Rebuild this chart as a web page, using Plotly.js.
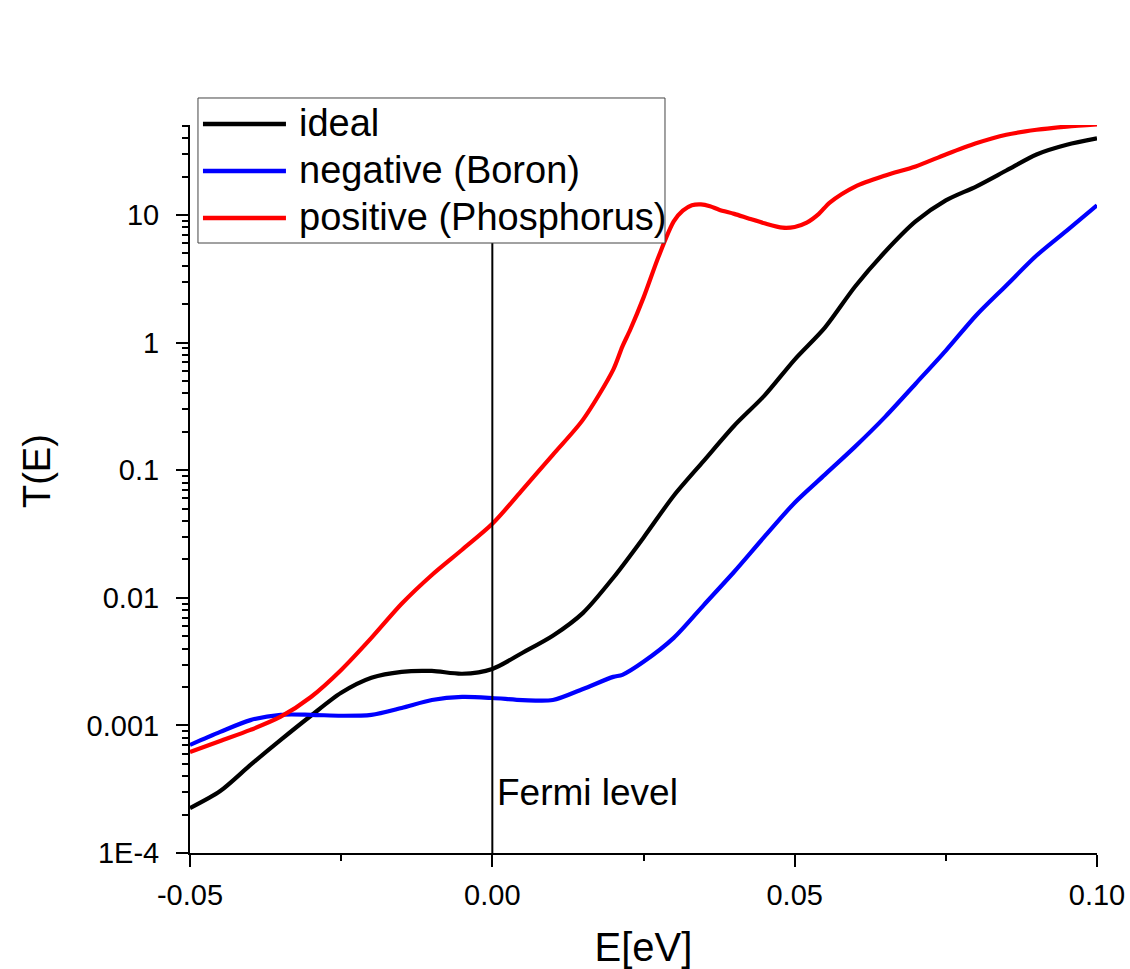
<!DOCTYPE html>
<html>
<head>
<meta charset="utf-8">
<script src="https://cdn.plot.ly/plotly-3.0.1.min.js"></script>
<style>
  html, body { margin: 0; padding: 0; background: #ffffff; }
  #chart { width: 1130px; height: 969px; }
</style>
</head>
<body>
<div id="chart"></div>
<script>
// ---- Data ----
const energyIdeal = [-0.05, -0.045, -0.04, -0.035, -0.03, -0.025, -0.02, -0.015, -0.01, -0.005,
  0.0, 0.005, 0.01, 0.015, 0.02, 0.025, 0.03, 0.035, 0.04, 0.045,
  0.05, 0.055, 0.06, 0.065, 0.07, 0.075, 0.08, 0.085, 0.09, 0.095, 0.10];
const tIdeal = [2.25e-4, 3.06e-4, 4.9e-4, 7.7e-4, 1.19e-3, 1.80e-3, 2.36e-3, 2.63e-3, 2.67e-3, 2.54e-3,
  2.77e-3, 3.71e-3, 5.04e-3, 7.62e-3, 0.01436, 0.0296, 0.0631, 0.119, 0.223, 0.384,
  0.736, 1.31, 2.75, 5.17, 8.89, 13.0, 16.7, 22.3, 29.8, 35.5, 39.8];

const energyBoron = [-0.05, -0.045, -0.04, -0.035, -0.03, -0.025, -0.02, -0.015, -0.01, -0.005,
  0.0, 0.005, 0.01, 0.015, 0.02, 0.0215, 0.025, 0.03, 0.035, 0.04, 0.045,
  0.05, 0.055, 0.06, 0.065, 0.07, 0.075, 0.08, 0.085, 0.09, 0.095, 0.10];
const tBoron = [7.03e-4, 8.89e-4, 1.10e-3, 1.21e-3, 1.21e-3, 1.19e-3, 1.21e-3, 1.37e-3, 1.58e-3, 1.67e-3,
  1.64e-3, 1.58e-3, 1.58e-3, 1.93e-3, 2.40e-3, 2.49e-3, 3.15e-3, 4.85e-3, 8.81e-3, 0.0160, 0.0301,
  0.0556, 0.0923, 0.153, 0.263, 0.476, 0.865, 1.63, 2.80, 4.81, 7.55, 11.9];

const energyPhos = [-0.05, -0.045, -0.04, -0.035, -0.03, -0.025, -0.02, -0.015, -0.01, -0.005,
  0.0, 0.005, 0.01, 0.015, 0.02, 0.0215, 0.0228, 0.025, 0.0275, 0.03, 0.0315, 0.033, 0.0345, 0.036, 0.0375,
  0.04, 0.0425, 0.045, 0.048, 0.05, 0.052, 0.054, 0.0558, 0.06, 0.065, 0.07, 0.075, 0.08, 0.085, 0.09, 0.095, 0.10];
const tPhos = [6.19e-4, 7.55e-4, 9.22e-4, 1.17e-3, 1.67e-3, 2.72e-3, 4.85e-3, 8.98e-3, 0.0151, 0.0238,
  0.0380, 0.0703, 0.132, 0.249, 0.614, 0.93, 1.26, 2.25, 4.73, 8.9, 10.8, 11.9, 12.1, 11.7, 11.0,
  10.2, 9.35, 8.6, 7.95, 8.05, 8.7, 10.2, 12.5, 16.7, 20.4, 24.0, 29.8, 36.4, 42.5, 46.5, 49.3, 51.3];

const seriesNames = ["ideal", "negative (Boron)", "positive (Phosphorus)"];
const seriesColors = ["#000000", "#0000ff", "#ff0000"];

const xTickVals = [-0.05, 0.0, 0.05, 0.10];
const xTickText = ["-0.05", "0.00", "0.05", "0.10"];
const yTickVals = [1e-4, 1e-3, 1e-2, 1e-1, 1, 10];
const yTickText = ["1E-4", "0.001", "0.01", "0.1", "1", "10"];

const xTitle = "E[eV]";
const yTitle = "T(E)";
const fermiEnergy = 0.0;
const fermiLabel = "Fermi level";
const fermiLabelY = 3.0e-4;

// ---- Chart ----
const FONT = "Liberation Sans, Arial, sans-serif";
const xs = [energyIdeal, energyBoron, energyPhos];
const ys = [tIdeal, tBoron, tPhos];

const traces = seriesNames.map((name, i) => ({
  type: "scatter",
  mode: "lines",
  name: name,
  x: xs[i],
  y: ys[i],
  line: { color: seriesColors[i], width: 4.2, shape: "spline", smoothing: 0.8 },
  hoverinfo: "skip",
  showlegend: false
}));

// Legend drawn in paper coordinates (box, long line samples, labels)
const legendBox = { x0: 0.0088, x1: 0.5237, y0: 0.8379, y1: 1.0371 };
const legendRowsY = [1.0014, 0.9368, 0.8723];
const legendLineX = [0.0143, 0.1058];
const legendTextX = 0.118;

const shapes = [{
  type: "line", xref: "x", yref: "paper",
  x0: fermiEnergy, x1: fermiEnergy, y0: 0, y1: 1,
  line: { color: "#000000", width: 2 }, layer: "above"
}, {
  type: "rect", xref: "paper", yref: "paper",
  x0: legendBox.x0, x1: legendBox.x1, y0: legendBox.y0, y1: legendBox.y1,
  fillcolor: "#ffffff", line: { color: "#444444", width: 1 }, layer: "above"
}];
seriesNames.forEach((name, i) => {
  shapes.push({
    type: "line", xref: "paper", yref: "paper",
    x0: legendLineX[0], x1: legendLineX[1], y0: legendRowsY[i], y1: legendRowsY[i],
    line: { color: seriesColors[i], width: 4.5 }, layer: "above"
  });
});

const annotations = [{
  xref: "x", yref: "y",
  x: fermiEnergy, y: Math.log10(fermiLabelY),
  text: fermiLabel, showarrow: false,
  xanchor: "left", yanchor: "middle", xshift: 3,
  font: { family: FONT, size: 37, color: "#000000" }
}, {
  xref: "paper", yref: "paper",
  x: -0.1687, y: 0.5247,
  text: yTitle, showarrow: false, textangle: -90,
  xanchor: "center", yanchor: "middle",
  font: { family: FONT, size: 38, color: "#000000" }
}];
seriesNames.forEach((name, i) => {
  annotations.push({
    xref: "paper", yref: "paper",
    x: legendTextX, y: legendRowsY[i],
    text: name, showarrow: false,
    xanchor: "left", yanchor: "middle", yshift: 1,
    font: { family: FONT, size: 38, color: "#000000" }
  });
});

const layout = {
  width: 1130,
  height: 969,
  paper_bgcolor: "#ffffff",
  plot_bgcolor: "#ffffff",
  margin: { l: 190, r: 33, t: 125, b: 116, pad: 0 },
  font: { family: FONT, color: "#000000", size: 29 },
  showlegend: false,
  xaxis: {
    type: "linear",
    range: [-0.05, 0.10],
    tickvals: xTickVals,
    ticktext: xTickText,
    ticks: "outside", ticklen: 12, tickwidth: 2, tickcolor: "#000000",
    minor: { ticks: "outside", ticklen: 6, tickwidth: 2, tickcolor: "#000000", dtick: 0.025, tick0: -0.05, showgrid: false },
    showline: true, linecolor: "#000000", linewidth: 2,
    showgrid: false, zeroline: false, mirror: false,
    tickfont: { family: FONT, size: 29, color: "#000000" },
    ticklabelstandoff: 3,
    title: { text: xTitle, font: { family: FONT, size: 40, color: "#000000" }, standoff: 32 },
    automargin: false
  },
  yaxis: {
    type: "log",
    range: [-4, 1.705],
    tickvals: yTickVals,
    ticktext: yTickText,
    ticks: "outside", ticklen: 12, tickwidth: 2, tickcolor: "#000000",
    minor: { ticks: "outside", ticklen: 6, tickwidth: 2, tickcolor: "#000000", dtick: "D1", showgrid: false },
    showline: true, linecolor: "#000000", linewidth: 2,
    showgrid: false, zeroline: false, mirror: false,
    tickfont: { family: FONT, size: 29, color: "#000000" },
    ticklabelstandoff: 11,
    automargin: false
  },
  shapes: shapes,
  annotations: annotations
};

Plotly.newPlot("chart", traces, layout, { displayModeBar: false, staticPlot: true });
</script>
</body>
</html>
